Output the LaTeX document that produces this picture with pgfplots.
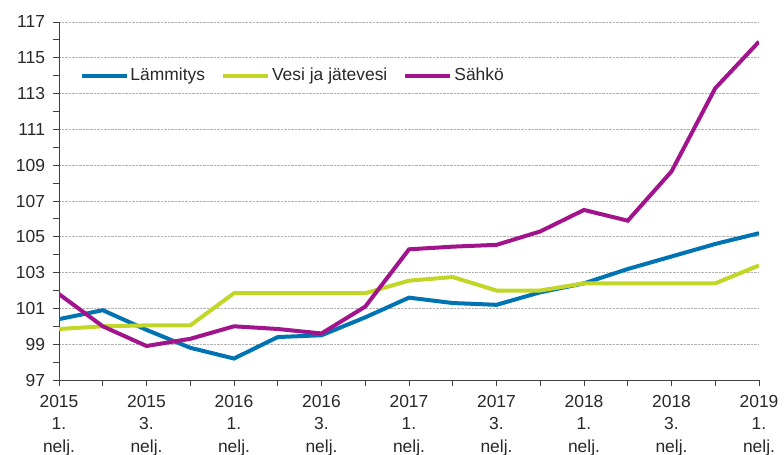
\documentclass[border=0pt]{standalone}
\usepackage{pgfplots}
\pgfplotsset{compat=1.18}
\usepackage{fontspec}
\setmainfont{Liberation Sans}
\definecolor{cBlue}{RGB}{0,116,178}
\definecolor{cGreen}{RGB}{194,214,40}
\definecolor{cPurple}{RGB}{162,20,140}
\definecolor{cText}{RGB}{40,40,40}
\begin{document}
\begin{tikzpicture}
\fontsize{17.5}{21}\selectfont
\begin{axis}[
  name=ax,
  scale only axis,
  width=700bp, height=358bp,
  xmin=0, xmax=16, ymin=97, ymax=117,
  axis lines*=left,
  axis line style={draw=black!75, line width=0.8bp},
  xtick={0,...,16},
  xticklabels={{2015\\1.\\nelj.},,{2015\\3.\\nelj.},,{2016\\1.\\nelj.},,{2016\\3.\\nelj.},,{2017\\1.\\nelj.},,{2017\\3.\\nelj.},,{2018\\1.\\nelj.},,{2018\\3.\\nelj.},,{2019\\1.\\nelj.}},
  xticklabel style={align=center, font=\fontsize{17.5}{22.5}\selectfont, text=cText, yshift=-3bp},
  ytick={97,99,...,117},
  minor ytick={98,100,...,116},
  yticklabel style={font=\fontsize{17.5}{21}\selectfont, text=cText, xshift=-2bp},
  /pgf/number format/assume math mode=true,
  tick align=outside,
  major tick length=6bp, minor tick length=6bp,
  tick style={draw=black!75, line width=0.8bp},
  ymajorgrids,
  major grid style={densely dotted, draw=black!30, line width=0.6bp},
  legend style={draw=none, fill=none, at={(0.029,0.85)}, anchor=west, inner sep=0pt,
    legend columns=-1, font=\fontsize{17.5}{21}\selectfont, text=cText,
    /tikz/every even column/.append style={column sep=14bp}},
  legend cell align=left,
  legend image code/.code={\draw[#1] (0bp,0bp) -- (45bp,0bp);},
]
\addplot[cBlue, line width=4bp] coordinates {
(0,100.4) (1,100.9) (2,99.8) (3,98.8) (4,98.2) (5,99.4) (6,99.5) (7,100.5) (8,101.6)
(9,101.3) (10,101.2) (11,101.9) (12,102.4) (13,103.2) (14,103.9) (15,104.6) (16,105.2)};
\addlegendentry{Lämmitys}
\addplot[cGreen, line width=4bp] coordinates {
(0,99.85) (1,100.0) (2,100.05) (3,100.05) (4,101.85) (5,101.85) (6,101.85) (7,101.85) (8,102.55)
(9,102.75) (10,102.0) (11,102.0) (12,102.4) (13,102.4) (14,102.4) (15,102.4) (16,103.4)};
\addlegendentry{Vesi ja jätevesi}
\addplot[cPurple, line width=4bp] coordinates {
(0,101.8) (1,100.0) (2,98.9) (3,99.3) (4,100.0) (5,99.85) (6,99.6) (7,101.1) (8,104.3)
(9,104.45) (10,104.55) (11,105.3) (12,106.5) (13,105.9) (14,108.65) (15,113.3) (16,115.9)};
\addlegendentry{Sähkö}
\end{axis}
\pgfresetboundingbox
\path ([xshift=-59bp,yshift=-75bp]ax.south west) rectangle ++(784bp,455bp);
\end{tikzpicture}
\end{document}
